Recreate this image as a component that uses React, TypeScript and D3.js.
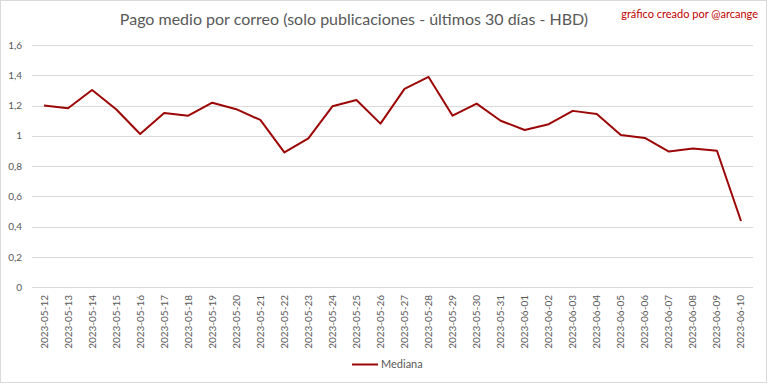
import React, { useEffect, useRef } from "react";
import * as d3 from "d3";

const fechas = [
  "2023-05-12", "2023-05-13", "2023-05-14", "2023-05-15", "2023-05-16",
  "2023-05-17", "2023-05-18", "2023-05-19", "2023-05-20", "2023-05-21",
  "2023-05-22", "2023-05-23", "2023-05-24", "2023-05-25", "2023-05-26",
  "2023-05-27", "2023-05-28", "2023-05-29", "2023-05-30", "2023-05-31",
  "2023-06-01", "2023-06-02", "2023-06-03", "2023-06-04", "2023-06-05",
  "2023-06-06", "2023-06-07", "2023-06-08", "2023-06-09", "2023-06-10",
];
const mediana = [
  1.2, 1.182, 1.303, 1.176, 1.012, 1.151, 1.133, 1.219, 1.176, 1.105,
  0.891, 0.984, 1.195, 1.237, 1.081, 1.31, 1.389, 1.133, 1.213, 1.1,
  1.039, 1.077, 1.165, 1.145, 1.006, 0.986, 0.896, 0.916, 0.902, 0.438,
];
const yTicks = [0, 0.2, 0.4, 0.6, 0.8, 1, 1.2, 1.4, 1.6];

const App = () => {
  const ref = useRef<SVGSVGElement | null>(null);

  useEffect(() => {
    const width = 768;
    const height = 384;
    const font = "Lato, 'Open Sans', sans-serif";
    const grey = "#595959";
    const svg = d3.select(ref.current);
    svg.selectAll("*").remove();

    svg.append("rect")
      .attr("x", 0.5).attr("y", 0.5)
      .attr("width", width - 2).attr("height", height - 2)
      .attr("fill", "#fff").attr("stroke", "#d9d9d9");

    const x = d3.scaleBand().domain(fechas).range([32, 753]);
    const y = d3.scaleLinear().domain([0, 1.6]).range([287.3, 45]);

    // gridlines + y labels
    svg.append("g").selectAll("line").data(yTicks).enter().append("line")
      .attr("x1", 32).attr("x2", 753)
      .attr("y1", (d) => Math.round(y(d)) + 0.5)
      .attr("y2", (d) => Math.round(y(d)) + 0.5)
      .attr("stroke", "#d9d9d9").attr("stroke-width", 1);

    svg.append("g").selectAll("text").data(yTicks).enter().append("text")
      .attr("x", 22).attr("y", (d) => y(d))
      .attr("dy", "0.35em").attr("text-anchor", "end")
      .style("font-family", font).style("font-size", "10px")
      .attr("fill", grey)
      .text((d) => d3.format(".1~f")(d).replace(".", ","));

    // x labels
    svg.append("g").selectAll("text").data(fechas).enter().append("text")
      .attr("transform", (d) => `translate(${x(d)! + x.bandwidth() / 2},295) rotate(-90)`)
      .attr("dy", "0.35em").attr("text-anchor", "end")
      .style("font-family", font).style("font-size", "10px")
      .attr("fill", grey)
      .text((d) => d);

    const line = d3.line<number>()
      .x((d, i) => x(fechas[i])! + x.bandwidth() / 2)
      .y((d) => y(d));

    svg.append("path").datum(mediana)
      .attr("d", line)
      .attr("fill", "none")
      .attr("stroke", "#9c0606")
      .attr("stroke-width", 2)
      .attr("stroke-linejoin", "round");

    // title
    svg.append("text")
      .attr("x", 354).attr("y", 25).attr("text-anchor", "middle")
      .style("font-family", font).style("font-size", "16px")
      .attr("fill", grey)
      .text("Pago medio por correo (solo publicaciones - últimos 30 días - HBD)");

    svg.append("text")
      .attr("x", 758).attr("y", 18).attr("text-anchor", "end")
      .style("font-family", font).style("font-size", "11px")
      .attr("fill", "#c00000")
      .text("gráfico creado por @arcange");

    // legend
    svg.append("line")
      .attr("x1", 352).attr("x2", 378).attr("y1", 364.5).attr("y2", 364.5)
      .attr("stroke", "#9c0606").attr("stroke-width", 2);
    svg.append("text")
      .attr("x", 381).attr("y", 364).attr("dy", "0.35em")
      .style("font-family", font).style("font-size", "11px")
      .attr("fill", grey)
      .text("Mediana");
  }, []);

  return (
    <svg
      ref={ref}
      width={768}
      height={384}
      style={{ position: "fixed", left: 0, top: 0, display: "block" }}
    />
  );
};

export default App;
